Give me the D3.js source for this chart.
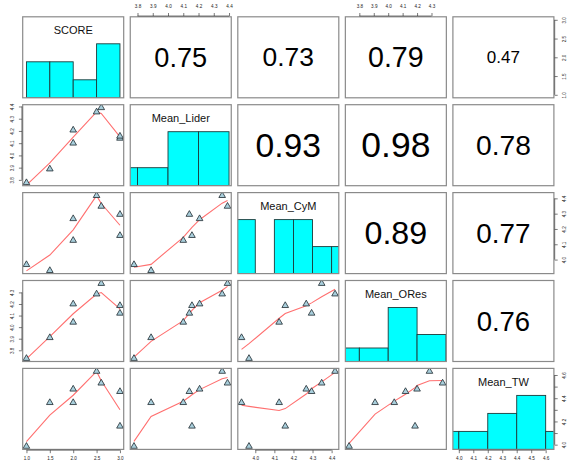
<!DOCTYPE html>
<html>
<head>
<meta charset="utf-8">
<script src="https://cdn.jsdelivr.net/npm/d3@7"></script>
<style>
  html, body { margin: 0; padding: 0; background: #fff; }
  text { font-family: "Liberation Sans", Arial, Helvetica, sans-serif; }
</style>
</head>
<body>
<svg id="chart" width="570" height="461"></svg>
<script>
// variable names (diagonal labels)
var varNames = ["SCORE", "Mean_Lider", "Mean_CyM", "Mean_ORes", "Mean_TW"];

// observations, one value per respondent group
var score     = [1.0, 1.5, 2.0, 2.0, 2.5, 2.6, 3.0, 3.0];
var meanLider = [3.777, 3.889, 4.207, 4.100, 4.355, 4.390, 4.140, 4.157];
var meanCyM   = [3.967, 3.928, 4.267, 4.125, 4.418, 4.348, 4.295, 4.157];
var meanORes  = [3.729, 3.909, 4.200, 4.042, 4.286, 4.377, 4.120, 4.186];
var meanTW    = [3.985, 4.362, 4.478, 4.362, 4.631, 4.530, 4.457, 4.159];

// correlations printed in the upper panels (row by row)
var corValues = [0.75, 0.73, 0.79, 0.47, 0.93, 0.98, 0.78, 0.89, 0.77, 0.76];

// histogram breaks
var scoreBreaks = [1.0, 1.5, 2.0, 2.5, 3.0];
var liderBreaks = [3.6, 3.8, 4.0, 4.2, 4.4];
var cymBreaks   = [3.9, 4.0, 4.1, 4.2, 4.3, 4.4, 4.5];
var oresBreaks  = [3.6, 3.8, 4.0, 4.2, 4.4];
var twBreaks    = [3.8, 4.0, 4.2, 4.4, 4.6, 4.8];

// axis tick values
var scoreTicks = [1.0, 1.5, 2.0, 2.5, 3.0];
var liderTicks = [3.8, 3.9, 4.0, 4.1, 4.2, 4.3, 4.4];
var cymTicks   = [4.0, 4.1, 4.2, 4.3, 4.4];
var oresTicks  = [3.8, 3.9, 4.0, 4.1, 4.2, 4.3];
var twTicks    = [4.0, 4.1, 4.2, 4.3, 4.4, 4.5, 4.6];
var twRightLabels = [4.0, 4.2, 4.4, 4.6];

var columns = [score, meanLider, meanCyM, meanORes, meanTW];
var breaks = [scoreBreaks, liderBreaks, cymBreaks, oresBreaks, twBreaks];
var ticks = [scoreTicks, liderTicks, cymTicks, oresTicks, twTicks];

// layout
var plotLeft = 22.7, plotTop = 16.8;
var panelW = 101, panelH = 81;
var stepX = 107.55, stepY = 87.9;
var nVar = varNames.length;

var svg = d3.select("#chart");
svg.append("rect").attr("width", 570).attr("height", 461).attr("fill", "#fff");
var defs = svg.append("defs");

// R-style scales: data range padded by 4% on each side
function paddedDomain(values) {
  var ext = d3.extent(values);
  var pad = (ext[1] - ext[0]) * 0.04;
  return [ext[0] - pad, ext[1] + pad];
}
var xScales = columns.map(function (c) {
  return d3.scaleLinear().domain(paddedDomain(c)).range([0, panelW]);
});
var yScales = columns.map(function (c) {
  return d3.scaleLinear().domain(paddedDomain(c)).range([panelH, 0]);
});

// port of R's clowess (stats::lowess)
function lowest(x, y, n, xs, nleft, nright, w, userw, rw) {
  var range = x[n] - x[1];
  var h = Math.max(xs - x[nleft], x[nright] - xs);
  var h9 = 0.999 * h, h1 = 0.001 * h;
  var a = 0, j = nleft;
  while (j <= n) {
    w[j] = 0;
    var r = Math.abs(x[j] - xs);
    if (r <= h9) {
      if (r <= h1) w[j] = 1;
      else w[j] = Math.pow(1 - Math.pow(r / h, 3), 3);
      if (userw) w[j] *= rw[j];
      a += w[j];
    } else if (x[j] > xs) break;
    j++;
  }
  var nrt = j - 1;
  if (a <= 0) return { ok: false };
  for (j = nleft; j <= nrt; j++) w[j] /= a;
  if (h > 0) {
    a = 0;
    for (j = nleft; j <= nrt; j++) a += w[j] * x[j];
    var b = xs - a, c = 0;
    for (j = nleft; j <= nrt; j++) c += w[j] * (x[j] - a) * (x[j] - a);
    if (Math.sqrt(c) > 0.001 * range) {
      b /= c;
      for (j = nleft; j <= nrt; j++) w[j] *= (b * (x[j] - a) + 1);
    }
  }
  var ys = 0;
  for (j = nleft; j <= nrt; j++) ys += w[j] * y[j];
  return { ok: true, ys: ys };
}

function lowess(xIn, yIn, f, nsteps) {
  var n = xIn.length;
  var order = d3.range(n).sort(function (a, b) { return (xIn[a] - xIn[b]) || (a - b); });
  var x = [0].concat(order.map(function (i) { return xIn[i]; }));
  var y = [0].concat(order.map(function (i) { return yIn[i]; }));
  var ys = new Array(n + 1).fill(0), rw = new Array(n + 1).fill(0), res = new Array(n + 1).fill(0);
  var delta = 0.01 * (x[n] - x[1]);
  var ns = Math.max(2, Math.min(n, Math.floor(f * n + 1e-7)));
  var iter = 1, i, j;
  while (iter <= nsteps + 1) {
    var nleft = 1, nright = ns, last = 0;
    i = 1;
    for (;;) {
      if (nright < n) {
        var d1 = x[i] - x[nleft], d2 = x[nright + 1] - x[i];
        if (d1 > d2) { nleft++; nright++; continue; }
      }
      var out = lowest(x, y, n, x[i], nleft, nright, res, iter > 1, rw);
      ys[i] = out.ok ? out.ys : y[i];
      if (last < i - 1) {
        var denom = x[i] - x[last];
        for (j = last + 1; j < i; j++) {
          var alpha = (x[j] - x[last]) / denom;
          ys[j] = alpha * ys[i] + (1 - alpha) * ys[last];
        }
      }
      last = i;
      var cut = x[last] + delta;
      for (i = last + 1; i <= n; i++) {
        if (x[i] > cut) break;
        if (x[i] === x[last]) { ys[i] = ys[last]; last = i; }
      }
      i = Math.max(last + 1, i - 1);
      if (last >= n) break;
    }
    for (i = 1; i <= n; i++) res[i] = y[i] - ys[i];
    var sc = 0;
    for (i = 1; i <= n; i++) sc += Math.abs(res[i]);
    sc /= n;
    if (iter > nsteps) break;
    for (i = 1; i <= n; i++) rw[i] = Math.abs(res[i]);
    var sorted = rw.slice(1).sort(function (a, b) { return a - b; });
    var m1 = Math.floor(n / 2), cmad;
    if (n % 2 === 0) cmad = 3 * (sorted[m1] + sorted[n - m1 - 1]);
    else cmad = 6 * sorted[m1];
    if (cmad < 1e-7 * sc) break;
    var c9 = 0.999 * cmad, c1 = 0.001 * cmad;
    for (i = 1; i <= n; i++) {
      var r = Math.abs(res[i]);
      if (r <= c1) rw[i] = 1;
      else if (r <= c9) rw[i] = Math.pow(1 - Math.pow(r / cmad, 2), 2);
      else rw[i] = 0;
    }
    iter++;
  }
  return d3.range(1, n + 1).map(function (k) { return [x[k], ys[k]]; });
}

// histogram counts, right-closed bins like R's hist()
function histCounts(values, br) {
  var eps = 1e-7;
  return d3.range(br.length - 1).map(function (k) {
    var count = values.filter(function (v) {
      var lowOk = k === 0 ? v >= br[0] - eps : v > br[k] + eps;
      return lowOk && v <= br[k + 1] + eps;
    }).length;
    return { x0: br[k], x1: br[k + 1], count: count };
  });
}

var histY = d3.scaleLinear().domain([0, 1.5]).range([panelH, 0]);
var corSize = d3.scaleLinear().domain([0, 1]).range([0, 36.2]);
var corIndex = 0;

for (var row = 0; row < nVar; row++) {
  for (var col = 0; col < nVar; col++) {
    var px = plotLeft + col * stepX, py = plotTop + row * stepY;
    var g = svg.append("g").attr("transform", "translate(" + px + "," + py + ")");
    var clipId = "clip-" + row + "-" + col;
    defs.append("clipPath").attr("id", clipId)
      .append("rect").attr("width", panelW).attr("height", panelH);
    var inner = g.append("g").attr("clip-path", "url(#" + clipId + ")");

    if (row === col) {
      // histogram on the diagonal
      var xs = xScales[col];
      var bins = histCounts(columns[col], breaks[col]);
      var maxCount = d3.max(bins, function (d) { return d.count; });
      inner.selectAll("rect.bar")
        .data(bins.filter(function (d) { return d.count > 0; }))
        .enter()
        .append("rect")
        .attr("class", "bar")
        .attr("x", function (d) { return xs(d.x0); })
        .attr("width", function (d) { return xs(d.x1) - xs(d.x0); })
        .attr("y", function (d) { return histY(d.count / maxCount); })
        .attr("height", function (d) { return panelH - histY(d.count / maxCount); })
        .attr("fill", "#00ffff")
        .attr("stroke", "#1d3b3b")
        .attr("stroke-width", 0.9);
      g.append("text")
        .attr("x", panelW / 2)
        .attr("y", panelH * (1 - 0.833))
        .attr("text-anchor", "middle")
        .attr("dominant-baseline", "central")
        .attr("font-size", 11)
        .attr("fill", "#111")
        .text(varNames[col]);
    } else if (row < col) {
      // correlation text in the upper triangle
      var r = corValues[corIndex++];
      g.append("text")
        .attr("x", panelW / 2)
        .attr("y", panelH / 2)
        .attr("text-anchor", "middle")
        .attr("dominant-baseline", "central")
        .attr("font-size", corSize(r))
        .attr("fill", "#000")
        .text(d3.format(".2f")(r));
    } else {
      // scatter + lowess smoother in the lower triangle
      var sx = xScales[col], sy = yScales[row];
      var xv = columns[col], yv = columns[row];
      var smooth = lowess(xv, yv, 2 / 3, 3);
      inner.append("path")
        .datum(smooth)
        .attr("fill", "none")
        .attr("stroke", "#ff7070")
        .attr("stroke-width", 1.1)
        .attr("d", d3.line()
          .x(function (d) { return sx(d[0]); })
          .y(function (d) { return sy(d[1]); }));
      inner.selectAll("path.pt")
        .data(d3.range(xv.length))
        .enter()
        .append("path")
        .attr("class", "pt")
        .attr("transform", function (k) { return "translate(" + sx(xv[k]) + "," + sy(yv[k]) + ")"; })
        .attr("d", d3.symbol().type(d3.symbolTriangle).size(19))
        .attr("fill", "#a9cfdc")
        .attr("stroke", "#1e2a30")
        .attr("stroke-width", 0.8);
    }

    // panel box
    g.append("rect")
      .attr("width", panelW)
      .attr("height", panelH)
      .attr("fill", "none")
      .attr("stroke", "#8a8a8a")
      .attr("stroke-width", 1.2);
  }
}

// outer axes, alternating sides like pairs()
var fmt = d3.format(".1f");
function styleAxis(sel, orient) {
  sel.select(".domain").remove();
  sel.selectAll(".tick line").attr("stroke", "#222").attr("stroke-width", 0.6);
  var t = sel.selectAll(".tick text")
    .attr("font-size", 4.6)
    .attr("fill", "#222")
    .attr("dy", null)
    .attr("dominant-baseline", "central")
    .attr("text-anchor", "middle");
  if (orient === "top") t.attr("y", -9.3);
  if (orient === "bottom") t.attr("y", 8.2);
  if (orient === "left") t.attr("x", 0).attr("transform", "translate(-9.3,0) rotate(-90)");
  if (orient === "right") t.attr("x", 0).attr("transform", "translate(9.3,0) rotate(-90)");
}

function drawAxis(orient, idx, offsetX, offsetY, scale, labelFilter) {
  var maker = { top: d3.axisTop, bottom: d3.axisBottom, left: d3.axisLeft, right: d3.axisRight }[orient];
  var vals = ticks[idx];
  var axis = maker(scale).tickValues(vals).tickSize(3).tickSizeOuter(0)
    .tickFormat(function (d) { return labelFilter && labelFilter.indexOf(d) < 0 ? "" : fmt(d); });
  var ag = svg.append("g").attr("transform", "translate(" + offsetX + "," + offsetY + ")").call(axis);
  styleAxis(ag, orient);
  // axis line from first to last tick
  var a = scale(vals[0]), b = scale(vals[vals.length - 1]);
  var horiz = orient === "top" || orient === "bottom";
  ag.append("line")
    .attr("x1", horiz ? a : 0).attr("x2", horiz ? b : 0)
    .attr("y1", horiz ? 0 : a).attr("y2", horiz ? 0 : b)
    .attr("stroke", "#222").attr("stroke-width", 0.6);
}

for (var k = 0; k < nVar; k++) {
  var colX = plotLeft + k * stepX, rowY = plotTop + k * stepY;
  if (k % 2 === 0) {
    drawAxis("bottom", k, colX, plotTop + (nVar - 1) * stepY + panelH + 0.8, xScales[k]);
    drawAxis("right", k, plotLeft + (nVar - 1) * stepX + panelW + 0.8, rowY, yScales[k], k === 4 ? twRightLabels : null);
  } else {
    drawAxis("top", k, colX, plotTop - 0.8, xScales[k]);
    drawAxis("left", k, plotLeft - 0.8, rowY, yScales[k]);
  }
}
</script>
</body>
</html>
